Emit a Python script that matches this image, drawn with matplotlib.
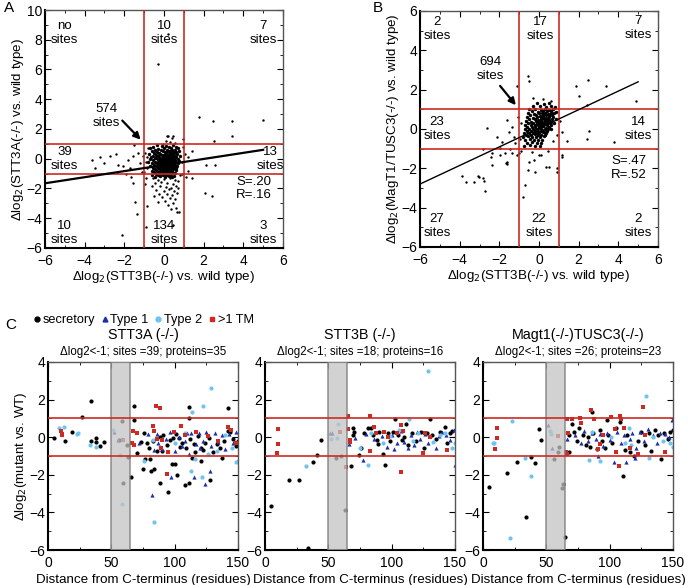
import numpy as np
import matplotlib
matplotlib.use("Agg")
import matplotlib.pyplot as plt
from matplotlib.lines import Line2D
from matplotlib.ticker import MultipleLocator

plt.rcParams['font.family'] = ['Liberation Sans', 'DejaVu Sans']

RED = '#cc2a22'
BLUE = '#1c2ea8'
LBLUE = '#6cc4ef'

# ---------------- panel A data (STT3B vs STT3A) ----------------
a_core = [
    (-0.35, 0.92), (0.1, 0.88), (0.45, 0.93),
    (-0.55, 0.8), (-0.1, 0.83), (0.25, 0.78), (0.6, 0.82),
    (-0.7, 0.7), (-0.3, 0.68), (0.0, 0.73), (0.35, 0.69), (0.7, 0.72),
    (-0.45, 0.6), (-0.15, 0.62), (0.15, 0.57), (0.4, 0.61), (0.55, 0.58),
    (-0.6, 0.5), (-0.35, 0.47), (-0.05, 0.52), (0.2, 0.49), (0.3, 0.53), (0.5, 0.46), (0.75, 0.51),
    (-0.5, 0.4), (-0.25, 0.38), (0.05, 0.42), (0.12, 0.36), (0.35, 0.41), (0.45, 0.37), (0.62, 0.43),
    (-0.75, 0.3), (-0.4, 0.28), (-0.2, 0.32), (0.0, 0.27), (0.1, 0.31), (0.25, 0.29), (0.38, 0.33), (0.52, 0.26), (0.68, 0.3),
    (-0.55, 0.2), (-0.3, 0.18), (-0.1, 0.22), (0.05, 0.17), (0.18, 0.21), (0.3, 0.19), (0.42, 0.23), (0.58, 0.16), (0.8, 0.2),
    (-0.65, 0.1), (-0.45, 0.08), (-0.25, 0.12), (-0.12, 0.07), (0.0, 0.11), (0.12, 0.09), (0.22, 0.13), (0.33, 0.06), (0.45, 0.1), (0.6, 0.12),
    (-0.7, 0.0), (-0.38, 0.02), (-0.2, -0.03), (-0.05, 0.01), (0.08, -0.02), (0.17, 0.03), (0.28, -0.01), (0.4, 0.02), (0.5, -0.04), (0.7, 0.01),
    (-0.55, -0.1), (-0.32, -0.08), (-0.15, -0.12), (0.0, -0.09), (0.1, -0.11), (0.2, -0.07), (0.3, -0.13), (0.44, -0.1), (0.55, -0.08), (0.75, -0.12),
    (-0.8, -0.2), (-0.45, -0.22), (-0.25, -0.18), (-0.08, -0.21), (0.05, -0.19), (0.15, -0.23), (0.25, -0.17), (0.35, -0.2), (0.48, -0.24), (0.62, -0.19),
    (-0.6, -0.3), (-0.35, -0.28), (-0.18, -0.32), (-0.02, -0.29), (0.09, -0.31), (0.2, -0.27), (0.3, -0.33), (0.4, -0.3), (0.52, -0.28), (0.7, -0.32),
    (-0.5, -0.4), (-0.28, -0.42), (-0.1, -0.38), (0.03, -0.41), (0.14, -0.39), (0.24, -0.43), (0.36, -0.37), (0.46, -0.4), (0.58, -0.42),
    (-0.68, -0.5), (-0.4, -0.48), (-0.2, -0.52), (-0.06, -0.49), (0.07, -0.51), (0.18, -0.47), (0.28, -0.53), (0.4, -0.5), (0.5, -0.48), (0.66, -0.52),
    (-0.55, -0.6), (-0.3, -0.62), (-0.12, -0.58), (0.0, -0.61), (0.12, -0.59), (0.22, -0.63), (0.34, -0.57), (0.45, -0.6), (0.6, -0.62),
    (-0.45, -0.7), (-0.22, -0.68), (-0.05, -0.72), (0.08, -0.69), (0.2, -0.71), (0.3, -0.67), (0.42, -0.73), (0.55, -0.7),
    (-0.6, -0.8), (-0.35, -0.82), (-0.15, -0.78), (0.02, -0.81), (0.15, -0.79), (0.28, -0.83), (0.4, -0.8), (0.62, -0.77),
    (-0.5, -0.9), (-0.25, -0.88), (-0.05, -0.92), (0.1, -0.89), (0.25, -0.91), (0.38, -0.87), (0.5, -0.93),
    (-0.4, -1.0), (-0.15, -0.98), (0.05, -1.02), (0.2, -0.99), (0.35, -1.03), (0.55, -0.97),
    (-0.6, -1.1), (-0.3, -1.12), (-0.05, -1.08), (0.15, -1.11), (0.3, -1.09), (0.48, -1.13),
    (-0.45, -1.2), (-0.2, -1.18), (0.05, -1.22), (0.25, -1.19), (0.4, -1.21),
]
a_tail = [
    (-0.55, -1.3), (-0.3, -1.4), (0.0, -1.35), (0.3, -1.3), (0.55, -1.45), (-0.45, -1.6),
    (-0.15, -1.55), (0.15, -1.65), (0.45, -1.7), (0.7, -1.5), (-0.6, -1.85), (-0.2, -1.8),
    (0.1, -1.9), (0.35, -1.95), (0.6, -1.8), (-0.4, -2.1), (0.0, -2.15), (0.25, -2.05),
    (0.5, -2.2), (-0.25, -2.35), (0.15, -2.4), (0.4, -2.45), (0.65, -2.3), (-0.1, -2.6),
    (0.3, -2.65), (0.55, -2.7), (0.05, -2.85), (0.45, -2.95), (-0.3, -2.9), (0.2, -3.1),
    (0.6, -3.3), (0.35, -3.4), (0.75, -3.55), (0.8, -1.1), (0.72, -2.0), (-0.5, -2.5),
]
a_other = [
    (-0.3, 6.4), (0.2, 8.4), (1.77, 2.8), (2.48, 2.54), (3.43, 2.54), (4.99, 2.6),
    (3.43, 1.5), (2.52, 1.2), (0.15, 1.5), (0.4, 1.4), (0.96, 1.3), (2.57, -0.4),
    (1.4, -1.3), (2.07, -2.3), (2.4, -2.5), (-2.1, -5.1), (-0.9, -4.6), (0.47, -4.45),
    (-1.37, -3.7), (-0.86, -3.2), (-1.46, -2.9), (0.67, -3.6),
    (-3.63, -0.08), (-3.23, 0.1), (-3.0, -0.3), (-2.7, 0.2), (-2.4, 0.3), (-2.3, -0.4),
    (-2.05, -0.5), (-1.8, -0.1), (-1.7, -0.6), (-1.55, 0.2), (-1.5, 0.95), (-1.3, 0.4),
    (-1.2, -0.3), (-1.65, -1.2), (-1.55, -1.6), (-1.9, -1.0), (-1.1, -0.9), (-2.3, -0.9),
    (-3.5, -0.6), (1.2, 0.1), (1.4, 0.5), (0.96, 0.8), (1.2, -0.8), (0.9, -0.2),
    (1.05, 0.3), (2.1, -0.45), (0.9, -1.0), (1.1, -1.25), (0.1, 1.2), (0.3, 1.1),
    (0.55, 1.05), (-0.05, 1.0), (0.45, 1.5), (0.2, 1.55), (-0.95, 0.4), (-0.9, -0.2),
    (-0.85, -0.6), (-1.0, -0.9), (-0.85, 0.1), (-0.8, 0.75), (-1.05, 0.2), (-0.9, -1.3),
    (-0.95, -1.7),
]
a_fit = (0.2045, -0.423)

# ---------------- panel B data (STT3B vs MagT1/TUSC3) ----------------
b_core = [
    (-0.1, 1.3), (0.25, 1.28), (0.5, 1.32),
    (-0.3, 1.15), (0.05, 1.17), (0.35, 1.13), (0.6, 1.16), (0.8, 1.12),
    (-0.5, 1.0), (-0.2, 1.02), (0.1, 0.98), (0.3, 1.01), (0.5, 0.97), (0.7, 1.03),
    (-0.35, 0.9), (-0.05, 0.88), (0.2, 0.92), (0.4, 0.89), (0.62, 0.91), (0.85, 0.87),
    (-0.55, 0.8), (-0.25, 0.78), (0.0, 0.82), (0.15, 0.79), (0.3, 0.81), (0.45, 0.77), (0.6, 0.83), (0.78, 0.8),
    (-0.45, 0.7), (-0.15, 0.72), (0.05, 0.68), (0.2, 0.71), (0.35, 0.69), (0.5, 0.73), (0.65, 0.7),
    (-0.6, 0.6), (-0.3, 0.58), (-0.1, 0.62), (0.08, 0.59), (0.22, 0.61), (0.36, 0.57), (0.48, 0.63), (0.7, 0.6),
    (-0.5, 0.5), (-0.22, 0.52), (-0.05, 0.48), (0.1, 0.51), (0.25, 0.49), (0.38, 0.53), (0.52, 0.47), (0.66, 0.5), (0.85, 0.52),
    (-0.65, 0.4), (-0.38, 0.38), (-0.15, 0.42), (0.0, 0.39), (0.12, 0.41), (0.24, 0.37), (0.34, 0.43), (0.46, 0.4), (0.6, 0.38),
    (-0.55, 0.3), (-0.3, 0.32), (-0.12, 0.28), (0.02, 0.31), (0.14, 0.29), (0.26, 0.33), (0.4, 0.27), (0.55, 0.3), (0.75, 0.32),
    (-0.7, 0.2), (-0.42, 0.18), (-0.22, 0.22), (-0.05, 0.19), (0.08, 0.21), (0.18, 0.17), (0.3, 0.23), (0.42, 0.2), (0.58, 0.18),
    (-0.6, 0.1), (-0.35, 0.12), (-0.18, 0.08), (-0.02, 0.11), (0.1, 0.09), (0.22, 0.13), (0.35, 0.07), (0.5, 0.1),
    (-0.72, 0.0), (-0.48, -0.02), (-0.28, 0.02), (-0.1, -0.01), (0.05, 0.03), (0.16, -0.03), (0.3, 0.01), (0.45, -0.02), (0.62, 0.02),
    (-0.6, -0.1), (-0.4, -0.12), (-0.2, -0.08), (-0.05, -0.11), (0.1, -0.09), (0.25, -0.13), (0.4, -0.1),
    (-0.75, -0.2), (-0.5, -0.18), (-0.3, -0.22), (-0.12, -0.19), (0.02, -0.21), (0.18, -0.17), (0.35, -0.2),
    (-0.65, -0.3), (-0.42, -0.32), (-0.22, -0.28), (-0.05, -0.31), (0.12, -0.29), (0.3, -0.33),
    (-0.8, -0.4), (-0.55, -0.38), (-0.33, -0.42), (-0.15, -0.39), (0.05, -0.41), (0.25, -0.37),
    (-0.7, -0.55), (-0.45, -0.53), (-0.25, -0.57), (-0.05, -0.54), (0.15, -0.56),
    (-0.6, -0.7), (-0.35, -0.68), (-0.1, -0.72), (0.1, -0.69),
    (-0.75, -0.85), (-0.45, -0.83), (-0.2, -0.87), (0.05, -0.84),
]
b_other = [
    (-0.55, 2.7), (-0.5, 2.45), (-1.1, 2.18), (2.47, 2.5), (1.87, 2.2), (3.38, 2.2),
    (2.0, 1.7), (4.9, 1.4), (2.4, 1.2), (2.5, -0.1), (2.4, -0.5), (3.8, -0.65),
    (1.4, -0.6), (1.16, -1.4), (0.9, -2.0), (0.35, -1.95), (-0.55, -2.1), (-0.7, -2.85),
    (-0.8, -3.45), (-2.6, 0.05), (-2.8, -1.0), (-2.4, -1.4), (-1.95, -0.98),
    (-3.9, -2.4), (-3.7, -2.7), (-3.3, -2.7), (-3.1, -2.4), (-3.05, -2.45), (-2.8, -2.5),
    (-2.78, -2.62), (-2.7, -3.15), (-1.65, -1.75), (-1.6, -1.8),
    (-2.1, -0.4), (-1.86, -0.66), (-1.6, 0.45), (-1.5, -0.15), (-1.36, 0.1), (-1.26, -0.4),
    (-1.2, -0.7), (-1.45, -1.0), (-1.7, -1.2), (-1.97, -1.3), (-2.37, -1.2), (-1.36, -1.2),
    (-1.1, -1.33), (-1.0, -1.2), (-1.6, -1.7), (-2.37, -1.85), (-0.5, -1.68), (-0.26, -1.6),
    (0.0, -1.3), (0.1, -1.3), (-0.2, -2.2), (0.5, -1.95), (0.9, -2.2), (1.16, -1.3),
    (1.16, -0.15), (1.05, 0.4), (0.8, 1.05), (-0.9, 0.3), (-0.95, -0.5), (-0.9, -1.1),
    (-1.05, 0.6), (0.6, 1.4), (0.2, 1.5), (-0.3, 1.6), (0.45, -1.1), (-0.35, -1.15),
    (0.7, -0.6), (0.9, -0.3),
]
b_fit = (0.4727, 0.036)

# ---------------- panel C data ----------------
c1_sec = [(5, -0.05), (13.4, -0.2), (19, 0.3), (27, 1.1), (34, 1.95), (34, -0.2), (38, -0.03), (38, -0.25),
          (41, -0.45), (44, -0.28), (58.7, 0.85), (59, -2.45), (63, -1.05), (62, -0.42), (56, -0.15),
          (65.5, -2.1), (68, 1.65), (68, 0.9), (74.7, -1.71), (76.5, -1.17), (81, -1.8), (84, -1.7),
          (80.5, -1.17), (88.7, -2.45), (95, -2.9), (98, -1.41), (100, -1.43), (102, -2.0), (108.5, -2.55),
          (111.5, -2.45), (127.6, -2.28), (120.5, -1.25), (113.5, -1.13), (137.5, -1.1), (111, 1.6),
          (111, 1.0), (142, 1.55), (142, 0.33), (76, 0.24), (78, -0.3), (80, -0.55), (83, -0.2),
          (86, -0.75), (88, 0.0), (91, 0.12), (94, -0.4), (96, -0.15), (98.4, -0.05), (101, 0.15),
          (103.7, -0.05), (106, -0.3), (109, -0.6), (112, -0.1), (115, -0.35), (118, 0.05), (121, -0.6),
          (124, -0.3), (127, -0.05), (130, -0.8), (133, -0.35), (136, -0.55), (139, -0.2), (144, 0.3),
          (146, -0.1), (148, -0.45), (150, -0.2), (70, -0.85), (73, -0.25), (90, -0.75), (104, -0.5),
          (116, -0.8), (122, -0.7)]
c1_t1 = [(79, 0.17), (82, -3.06), (84, -0.7), (87, -0.3), (90, -0.65), (93, -0.1), (96.6, 0.3), (97, -2.1),
         (100, -0.75), (103, 0.0), (106, -0.45), (110, 0.25), (111, -0.9), (113, 0.2), (115.5, -2.1),
         (117, -0.35), (119, 0.2), (122, -0.2), (124, -2.5), (125, 0.3), (128, -1.8), (129, -0.45),
         (132, 0.25), (134, -0.25), (137, 0.1), (140, -0.65), (143, 0.15), (146, -0.3), (150, -1.2),
         (148, 0.3), (120, -0.6), (108, -0.2), (72, -0.3), (86, 0.15), (55, -0.15), (52, 0.3)]
c1_t2 = [(8.4, 0.47), (13, 0.52), (23, 0.17), (23.5, 0.24), (33, -0.41), (38, -0.5), (51, 0.38), (57, -0.96),
         (58, -3.56), (83, -0.14), (76, -1.25), (84, -4.53), (113, -1.8), (114, 1.36), (116, -1.18),
         (121.6, -2.1), (122, 1.65), (129, 2.6), (140, 0.1), (145, -0.6), (148, -1.3), (133, -0.75),
         (100, -0.3), (88, -0.5), (108, 0.2), (126, -0.9)]
c1_tm = [(10.5, 0.35), (11, 0.17), (11, 0.1), (59.5, -0.15), (67, 0.35), (66.3, -0.3), (68, -0.4), (70, 0.2),
         (83, 0.6), (84, 0.35), (85, 1.68), (88, 1.54), (89, -0.6), (86, -0.1), (90, -0.15), (94, -1.98),
         (95, -0.8), (99.7, 0.3), (105, 0.6), (108, 0.1), (117, 0.3), (126, 0.05), (142, 0.52),
         (144.5, 0.4), (148, -0.3), (134, -0.2)]

c2_sec = [(4.7, -3.64), (18.7, -2.3), (26.6, -2.3), (34, -5.88), (37.9, -1.3), (41, -0.92), (44, -0.15),
          (56, -1.13), (60, -1.0), (63, -3.87), (68, -1.51), (69.5, 0.47), (70, 0.29), (69.5, 0.12),
          (74, -0.97), (75.5, -0.55), (81, 0.47), (78, 0.25), (83.7, 0.47), (85, 0.1), (88.7, -0.15),
          (89, -0.38), (93, -0.88), (95, -1.5), (97, 0.2), (99, -0.2), (101, 0.3), (103, 0.98), (105, 0.1),
          (111, 0.68), (113, -0.4), (110, 0.0), (116, 0.2), (119, -0.2), (123, 0.3), (125.5, -0.59),
          (130, 0.98), (132, 0.1), (135, -0.1), (138, 0.3), (141.8, 0.56), (144, -0.3), (146, 0.2),
          (148, 0.35), (108, -0.15), (90, 0.3), (128, 0.25)]
c2_t1 = [(51, 0.2), (53, 0.2), (66, -0.36), (71, -0.02), (77, -1.2), (80, 0.15), (86, -0.1), (92, 0.05),
         (96, -0.5), (100, 0.1), (104, -0.3), (107, 0.35), (110, -0.25), (113, -0.6), (115, 0.1),
         (118, -0.4), (120, 0.3), (122, -0.1), (126, 0.15), (129, -0.3), (135, -0.59), (137, 0.05),
         (140, 0.3), (143, 0.1), (146, -0.15), (149.7, -1.5), (149, 0.4), (102, -0.65)]
c2_t2 = [(32.6, -1.51), (52.4, -0.1), (57.6, 0.7), (57, -0.06), (75, -0.58), (81, -1.5), (84, 0.2), (99, 0.05),
         (106, 0.4), (114, 0.97), (117, -0.2), (121, 0.2), (128.7, 3.52), (133, -0.25), (138, 0.1),
         (142, 0.2), (148, -0.59), (150, -0.3), (93, -0.3)]
c2_tm = [(10.5, 0.43), (10.5, -0.36), (9.7, -0.84), (59, 0.3), (64, -1.57), (65.8, 1.13), (65.8, 0.43),
         (67, -0.15), (67, -0.24), (82.6, 1.14), (83, -0.73), (86, 0.52), (88, 0.2), (93.7, 0.29), (97, 0.0),
         (104, 0.2), (107, 0.65), (107.6, -1.84), (109, 0.35), (124.7, -0.84), (126, 0.2), (144, -0.68),
         (130, 0.0)]

c3_sec = [(4.7, -2.63), (19, -1.89), (26.6, -1.32), (33.7, -4.24), (38, -1.03), (41, -1.39), (44, 0.43),
          (45.8, -0.15), (56, -1.16), (59, -0.77), (60.3, -0.54), (62, -2.72), (63, -2.48), (65, -5.29),
          (68, -0.8), (67.5, 0.1), (70, 0.7), (72, 0.3), (74, -0.2), (76, 0.5), (79, 0.1), (81, -0.4),
          (84.5, -0.54), (85.8, 1.32), (87, 0.2), (90, -0.61), (92, 0.4), (94, -0.2), (97.6, 0.92), (99, 0.1),
          (102, -0.3), (105, 0.5), (108, 0.8), (110.8, -2.05), (112, -0.7), (114, 0.1), (116, -0.8),
          (119.5, -0.98), (122, -0.2), (125, 0.3), (128, -0.4), (131, 0.2), (133, -0.75), (136, 0.4),
          (138, 0.1), (140.5, -1.18), (143, 0.2), (146, -0.1), (148, 0.3), (150, 0.4), (83, 0.0), (96, -0.6)]
c3_t1 = [(51, 0.63), (54, 0.24), (54.5, -0.59), (66.5, -0.1), (73, 0.1), (77, -0.3), (80, 0.35), (83, -0.2),
         (86, 0.2), (89, -0.1), (92, 0.15), (95, -0.45), (98, 0.2), (100, -0.15), (103.7, -1.3), (106, 0.3),
         (109, -0.3), (113, -1.3), (111, 0.1), (116, -0.1), (118, 0.25), (121, -0.6), (124, 0.3),
         (127, -0.2), (130, 0.45), (134, 0.1), (137, -0.3), (140, 0.2), (144, 0.15), (147, 0.0), (149, 0.9),
         (120, -1.1), (91, -1.0)]
c3_t2 = [(8.2, -0.29), (8.8, -0.32), (22.6, 0.88), (21.6, -5.35), (33, -1.13), (37.9, -2.08), (52.9, 0.35),
         (54, 0.15), (83.7, -1.21), (86, 0.3), (101, 0.0), (115, 0.5), (117, -0.4), (129, 2.2),
         (130.8, -1.09), (134, 0.0), (142, -0.2), (148, -0.3), (150, -0.5), (112, -0.3), (92, -1.25)]
c3_tm = [(10.8, 0.47), (10.8, -0.02), (9.7, -0.65), (59, 0.06), (66.3, 0.95), (67, 0.24), (66.3, -0.87),
         (65.5, -0.8), (70, 0.95), (76.6, 1.04), (77, 0.74), (85.5, 1.44), (88, 0.95), (90.5, -0.61),
         (92, -0.35), (95, 0.1), (100.8, 1.06), (104, 0.45), (107.9, 1.14), (109, 0.97), (107.6, -1.53),
         (111, 0.5), (116, -0.55), (122, -0.9), (126, 1.58), (128, 0.1), (144, -0.79), (105, -0.8)]

c_titles = ["STT3A (-/-)", "STT3B (-/-)", "Magt1(-/-)TUSC3(-/-)"]
c_subtitles = ["\u0394log2<-1; sites =39; proteins=35",
               "\u0394log2<-1; sites =18; proteins=16",
               "\u0394log2<-1; sites =26; proteins=23"]

FS_TICK = 10
FS_LABEL = 9.6
FS_NOTE = 9.5


def style_axes(ax):
    for s in ['left', 'bottom']:
        ax.spines[s].set_color('k')
        ax.spines[s].set_linewidth(1.5)
    for s in ['top', 'right']:
        ax.spines[s].set_color('#555555')
        ax.spines[s].set_linewidth(1.0)
    ax.tick_params(which='both', direction='in', top=True, right=True, labelsize=FS_TICK)
    ax.tick_params(axis='y', pad=2)
    ax.tick_params(axis='x', pad=4)
    ax.tick_params(which='major', length=4)
    ax.tick_params(which='minor', length=2.5)


def quad_panel(ax, core, rest, fit, ylim, labels, ann, ylabel, fit_lw):
    p = np.array(core)
    ax.scatter(p[:, 0], p[:, 1], s=6, c='k', linewidths=0, zorder=2)
    for pts in rest:
        p = np.array(pts)
        ax.scatter(p[:, 0], p[:, 1], s=3, c='k', linewidths=0, zorder=2)
    for v in (-1, 1):
        ax.axvline(v, color=RED, lw=1.2, zorder=3)
        ax.axhline(v, color=RED, lw=1.2, zorder=3)
    xs = np.array([-6, 5])
    ax.plot(xs, fit[0] * xs + fit[1], color='k', lw=fit_lw, zorder=4)
    ax.set_xlim(-6, 6)
    ax.set_ylim(*ylim)
    ax.xaxis.set_major_locator(MultipleLocator(2))
    ax.xaxis.set_minor_locator(MultipleLocator(1))
    ax.yaxis.set_major_locator(MultipleLocator(2))
    ax.yaxis.set_minor_locator(MultipleLocator(1))
    for (x, y, t) in labels:
        ax.text(x, y, t, ha='center', va='center', fontsize=FS_NOTE, linespacing=1.2)
    txt, txy, tail, head = ann
    ax.text(txy[0], txy[1], txt, ha='center', va='center', fontsize=FS_NOTE, linespacing=1.2)
    ax.annotate('', xy=head, xytext=tail,
                arrowprops=dict(arrowstyle='-|>', color='k', lw=1.6, mutation_scale=10))
    ax.set_xlabel("\u0394log$_2$(STT3B(-/-) vs. wild type)", fontsize=FS_LABEL, labelpad=1)
    ax.set_ylabel(ylabel, fontsize=FS_LABEL, labelpad=0)
    style_axes(ax)


fig = plt.figure(figsize=(6.89, 5.85), dpi=100)

axA = fig.add_axes([0.0653, 0.5761, 0.3454, 0.4068])
quad_panel(axA, a_core, [a_tail, a_other], a_fit, (-6, 10),
           [(-5.0, 8.45, "no\nsites"), (0.0, 8.45, "10\nsites"), (5.0, 8.45, "7\nsites"),
            (-5.0, 0.0, "39\nsites"), (5.35, 0.0, "13\nsites"), (4.55, -2.0, "S=.20\nR=.16"),
            (-5.0, -5.0, "10\nsites"), (0.0, -5.0, "134\nsites"), (5.0, -5.0, "3\nsites")],
           ("574\nsites", (-2.9, 2.85), (-2.2, 2.7), (-1.08, 1.15)),
           "\u0394log$_2$(STT3A(-/-) vs. wild type)", 1.6)

axB = fig.add_axes([0.6096, 0.5778, 0.3454, 0.4034])
quad_panel(axB, b_core, [b_other], b_fit, (-6, 6),
           [(-5.15, 5.1, "2\nsites"), (0.05, 5.1, "17\nsites"), (5.0, 5.15, "7\nsites"),
            (-5.15, 0.0, "23\nsites"), (5.0, 0.0, "14\nsites"), (4.55, -2.0, "S=.47\nR=.52"),
            (-5.15, -4.95, "27\nsites"), (0.0, -4.95, "22\nsites"), (5.0, -4.95, "2\nsites")],
           ("694\nsites", (-2.45, 3.05), (-2.05, 2.3), (-1.08, 1.1)),
           "\u0394log$_2$(MagT1/TUSC3(-/-) vs. wild type)", 1.0)

c_data = [(c1_sec, c1_t1, c1_t2, c1_tm), (c2_sec, c2_t1, c2_t2, c2_tm), (c3_sec, c3_t1, c3_t2, c3_tm)]
c_lefts = [0.0697, 0.3846, 0.701]
for i, (left, data) in enumerate(zip(c_lefts, c_data)):
    ax = fig.add_axes([left, 0.0598, 0.2758, 0.3214])
    sec, t1, t2, tm = [np.array(d) for d in data]
    ax.scatter(sec[:, 0], sec[:, 1], s=9, c='k', marker='o', linewidths=0, zorder=2)
    ax.scatter(t1[:, 0], t1[:, 1], s=9, c=BLUE, marker='^', linewidths=0, zorder=2)
    ax.scatter(t2[:, 0], t2[:, 1], s=9, c=LBLUE, marker='o', linewidths=0, zorder=2)
    ax.scatter(tm[:, 0], tm[:, 1], s=10, c=RED, marker='s', linewidths=0, zorder=2)
    ax.axvspan(50, 64.5, facecolor='#c4c4c4', alpha=0.75, edgecolor='#777777', lw=1.2, zorder=3)
    for v in (-1, 1):
        ax.axhline(v, color=RED, lw=1.2, zorder=4)
    ax.set_xlim(0, 150)
    ax.set_ylim(-6, 4)
    ax.xaxis.set_major_locator(MultipleLocator(50))
    ax.xaxis.set_minor_locator(MultipleLocator(25))
    ax.yaxis.set_major_locator(MultipleLocator(2))
    ax.yaxis.set_minor_locator(MultipleLocator(1))
    style_axes(ax)
    ax.set_xlabel("Distance from C-terminus (residues)", fontsize=FS_LABEL, labelpad=3)
    if i == 0:
        ax.set_ylabel("\u0394log$_2$(mutant vs. WT)", fontsize=FS_LABEL, labelpad=0)
    ax.text(0.5, 1.145, c_titles[i], transform=ax.transAxes, ha='center', va='center', fontsize=10.3)
    ax.text(0.5, 1.055, c_subtitles[i], transform=ax.transAxes, ha='center', va='center', fontsize=8.3)

handles = [Line2D([], [], ls='', marker='o', color='k', ms=3.5),
           Line2D([], [], ls='', marker='^', color=BLUE, ms=3.5),
           Line2D([], [], ls='', marker='o', color=LBLUE, ms=3.5),
           Line2D([], [], ls='', marker='s', color=RED, ms=3.5)]
fig.legend(handles, ["secretory", "Type 1", "Type 2", ">1 TM"], loc='center',
           bbox_to_anchor=(0.207, 0.453), ncol=4, frameon=False, fontsize=9.2,
           handletextpad=0.05, columnspacing=0.35, handlelength=0.8, borderpad=0)

fig.text(0.006, 0.986, "A", fontsize=11, ha='left', va='center')
fig.text(0.541, 0.986, "B", fontsize=11, ha='left', va='center')
fig.text(0.007, 0.444, "C", fontsize=11, ha='left', va='center')

fig.savefig("out.png", dpi=100)
